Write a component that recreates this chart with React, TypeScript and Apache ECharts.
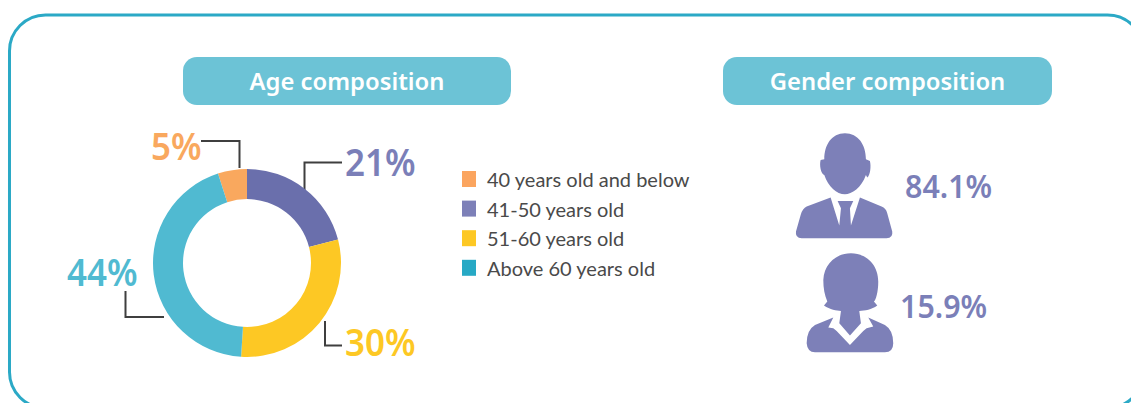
import React, { useEffect, useRef } from "react";
import * as echarts from "echarts";

const ageCategories = ["40 years old and below", "41-50 years old", "51-60 years old", "Above 60 years old"];
const ageValues = [5, 21, 30, 44];
const ageColors = ["#f9a85e", "#6a6fac", "#fdc824", "#50bad1"];
const legendColors = ["#fba55f", "#7d80b8", "#fdc824", "#27a9c5"];
const labelColors = ["#f9a85e", "#7b7fb8", "#fdc824", "#50bad1"];
const genderValues = [84.1, 15.9];
const titles = ["Age composition", "Gender composition"];

const FONT = "'Noto Sans', sans-serif";
const PURPLE = "#7d80b8";

const MAN_HEAD =
  "M165 25C205 25 228 60 228 103L240 108C244 125 241 150 232 158L228 150C215 188 185 208 165 208C140 208 115 185 103 150C92 146 88 120 92 105L103 103C103 60 125 25 165 25Z";
const MAN_BODY =
  "M122 218L50 245Q38 250 32 270L18 320Q15 340 35 340L290 340Q310 340 307 320L292 265Q288 250 275 245L210 218L183 302L180 250L190 228L143 228L153 250L148 302Z";
const WOMAN =
  "M153 25C200 25 235 60 235 110C235 140 228 165 222 170L232 182C215 195 195 197 178 198L183 235L150 272L118 235L123 198C110 197 90 195 72 182L82 170C74 150 70 130 70 105C72 60 105 25 153 25Z" +
  "M100 218L45 240Q20 255 20 295Q22 322 45 322L255 322Q280 322 280 295Q280 255 255 240L205 218L220 245L200 250L190 258L150 300L110 258L100 250L85 248Z";

echarts.graphic.registerShape("manIcon", echarts.graphic.extendPath(MAN_HEAD + MAN_BODY, {}));
echarts.graphic.registerShape("womanIcon", echarts.graphic.extendPath(WOMAN, {}));

const pct = (v: number) => `${v}%`;

function leader(points: number[][]) {
  return {
    type: "polyline",
    shape: { points },
    style: { stroke: "#3f3f3f", lineWidth: 2, fill: "none" },
    silent: true,
  };
}

function label(text: string, x: number, y: number, fill: string, fontSize: number, scaleX = 1) {
  return {
    type: "text",
    x,
    y,
    scaleX,
    silent: true,
    style: {
      text,
      fill,
      font: `600 ${fontSize}px ${FONT}`,
      textAlign: "left",
      textVerticalAlign: "middle",
    },
  };
}

function pill(text: string, x: number, width: number) {
  return [
    {
      type: "rect",
      shape: { x, y: 57, width, height: 48, r: 14 },
      style: { fill: "#6cc3d6" },
      silent: true,
    },
    {
      type: "text",
      x: x + width / 2,
      y: 81,
      silent: true,
      style: {
        text,
        fill: "#ffffff",
        font: `600 23.8px ${FONT}`,
        textAlign: "center",
        textVerticalAlign: "middle",
      },
    },
  ];
}

export default function App() {
  const ref = useRef<HTMLDivElement>(null);
  useEffect(() => {
    const chart = echarts.init(ref.current!, undefined, { renderer: "svg" });
    chart.setOption({
      animation: false,
      backgroundColor: "#ffffff",
      legend: {
        orient: "vertical",
        left: 462,
        top: 169,
        padding: 0,
        itemWidth: 14,
        itemHeight: 16,
        itemGap: 9.6,
        selectedMode: false,
        icon: "rect",
        textStyle: {
          color: "#4a4a4a",
          fontFamily: "Lato, sans-serif",
          fontSize: 20,
          lineHeight: 15,
          padding: [0, 0, 0, 6],
        },
        data: ageCategories.map((name, i) => ({ name, itemStyle: { color: legendColors[i] } })),
      },
      series: [
        {
          type: "pie",
          center: [247, 263],
          radius: [64, 94],
          startAngle: 108,
          silent: true,
          label: { show: false },
          labelLine: { show: false },
          data: ageCategories.map((name, i) => ({
            name,
            value: ageValues[i],
            itemStyle: { color: ageColors[i] },
          })),
        },
      ],
      graphic: [
        {
          type: "rect",
          shape: { x: 9.5, y: 15, width: 1134, height: 393, r: 36 },
          style: { fill: "none", stroke: "#2ba9c6", lineWidth: 3 },
          silent: true,
        },
        ...pill(titles[0], 183, 328),
        ...pill(titles[1], 723, 329),
        leader([[201, 141], [239.5, 141], [239.5, 168]]),
        leader([[342, 162.5], [304.5, 162.5], [304.5, 190]]),
        leader([[325, 321], [325, 345.5], [342, 345.5]]),
        leader([[125.5, 291], [125.5, 317], [164, 317]]),
        label(pct(ageValues[0]), 151, 145, labelColors[0], 38, 0.92),
        label(pct(ageValues[1]), 345, 161, labelColors[1], 38, 0.92),
        label(pct(ageValues[2]), 345, 341, labelColors[2], 38, 0.92),
        label(pct(ageValues[3]), 67, 271, labelColors[3], 38, 0.92),
        label(pct(genderValues[0]), 905, 186, labelColors[1], 32, 0.95),
        label(pct(genderValues[1]), 900, 306, labelColors[1], 32, 0.95),
        { type: "manIcon", x: 790, y: 125, scaleX: 1 / 3, scaleY: 1 / 3, style: { fill: PURPLE }, silent: true },
        { type: "womanIcon", x: 800, y: 245, scaleX: 1 / 3, scaleY: 1 / 3, style: { fill: PURPLE }, silent: true },
      ],
    });
    return () => chart.dispose();
  }, []);
  return <div ref={ref} style={{ position: "absolute", left: 0, top: 0, width: 1131, height: 403 }} />;
}
